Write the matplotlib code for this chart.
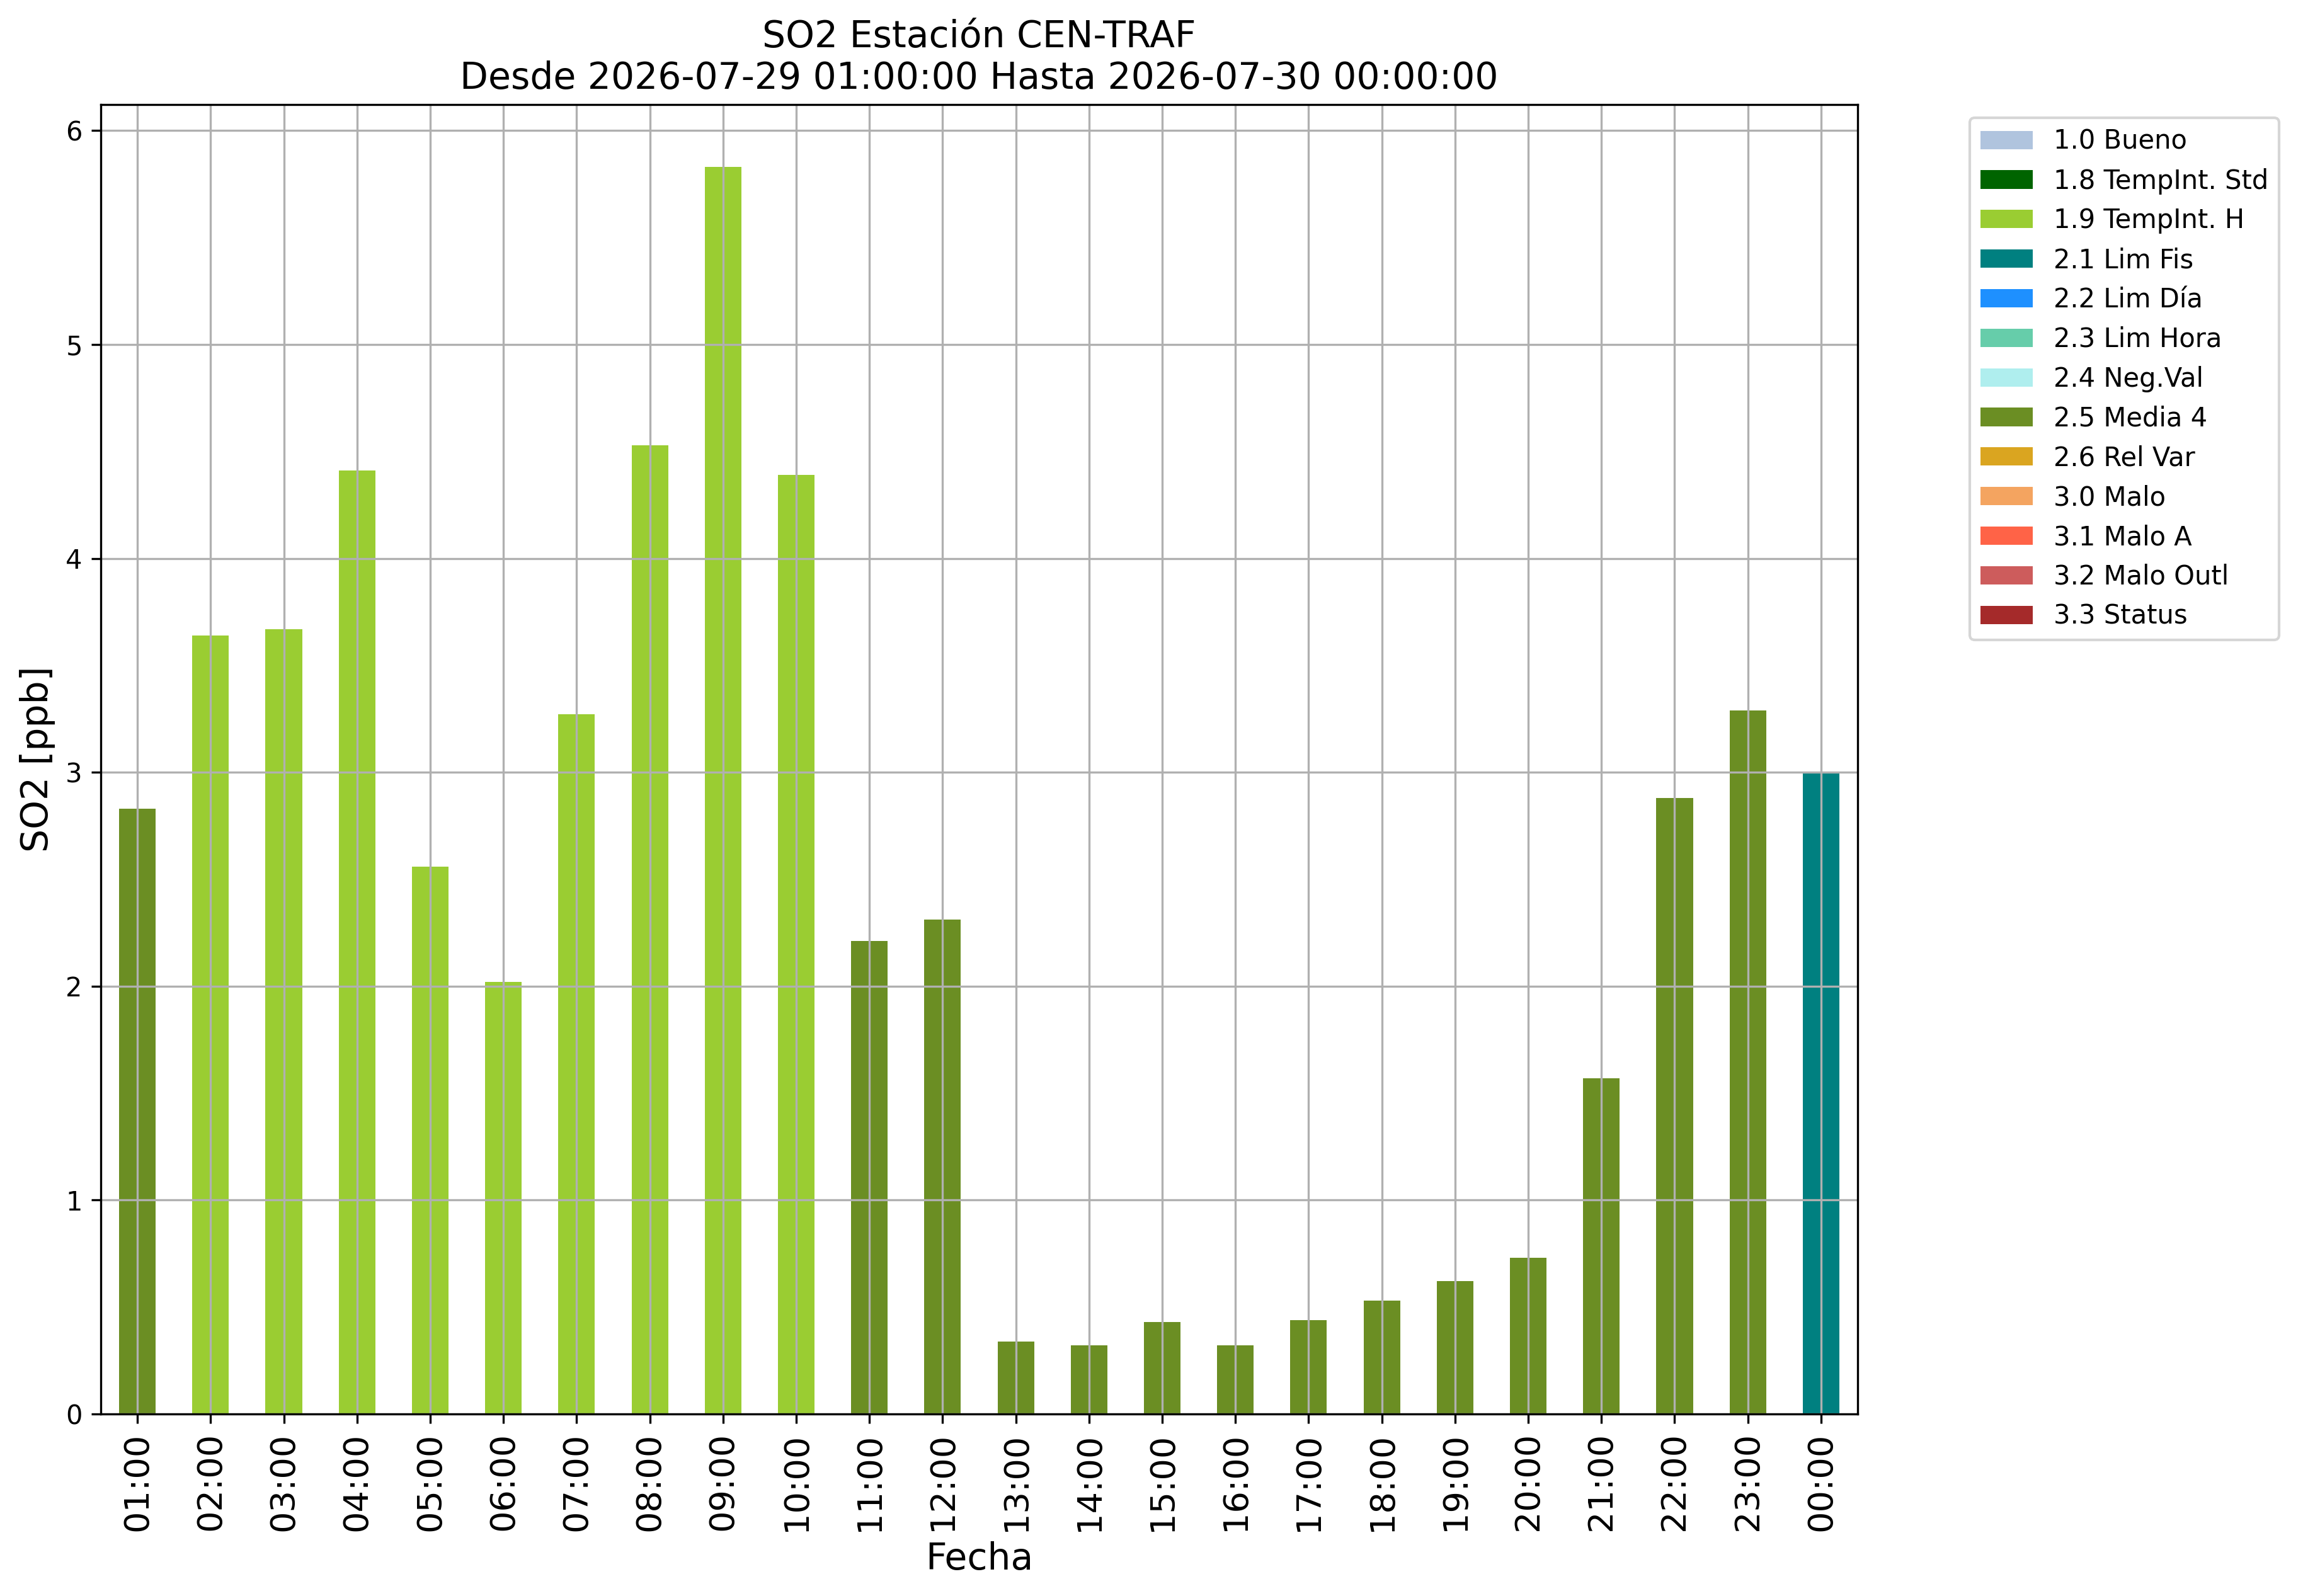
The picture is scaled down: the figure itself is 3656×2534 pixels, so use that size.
import matplotlib
matplotlib.use("Agg")
import matplotlib.pyplot as plt
from matplotlib.patches import Patch

# ---- data ----
hours = ["01:00", "02:00", "03:00", "04:00", "05:00", "06:00", "07:00", "08:00",
         "09:00", "10:00", "11:00", "12:00", "13:00", "14:00", "15:00", "16:00",
         "17:00", "18:00", "19:00", "20:00", "21:00", "22:00", "23:00", "00:00"]
so2_values = [2.83, 3.64, 3.67, 4.41, 2.56, 2.02, 3.27, 4.53,
              5.83, 4.39, 2.21, 2.31, 0.34, 0.32, 0.43, 0.32,
              0.44, 0.53, 0.62, 0.73, 1.57, 2.88, 3.29, 3.00]
flags = ["2.5", "1.9", "1.9", "1.9", "1.9", "1.9", "1.9", "1.9",
         "1.9", "1.9", "2.5", "2.5", "2.5", "2.5", "2.5", "2.5",
         "2.5", "2.5", "2.5", "2.5", "2.5", "2.5", "2.5", "2.1"]

flag_codes = ["1.0", "1.8", "1.9", "2.1", "2.2", "2.3", "2.4", "2.5", "2.6",
              "3.0", "3.1", "3.2", "3.3"]
flag_names = ["1.0 Bueno", "1.8 TempInt. Std", "1.9 TempInt. H", "2.1 Lim Fis",
              "2.2 Lim Día", "2.3 Lim Hora", "2.4 Neg.Val", "2.5 Media 4",
              "2.6 Rel Var", "3.0 Malo", "3.1 Malo A", "3.2 Malo Outl", "3.3 Status"]
flag_colors = ["lightsteelblue", "darkgreen", "yellowgreen", "teal", "dodgerblue",
               "mediumaquamarine", "paleturquoise", "olivedrab", "goldenrod",
               "sandybrown", "tomato", "indianred", "brown"]

title = "SO2 Estación CEN-TRAF\nDesde 2026-07-29 01:00:00 Hasta 2026-07-30 00:00:00"

# ---- figure ----
W, H, DPI = 3656, 2534, 300
fig = plt.figure(figsize=(W / DPI, H / DPI), dpi=DPI)
L, R, T, B = 160, 2949, 166, 2245
ax = fig.add_axes([L / W, 1 - B / H, (R - L) / W, (B - T) / H])

cmap = dict(zip(flag_codes, flag_colors))
x = list(range(len(hours)))
ax.bar(x, so2_values, width=0.5, color=[cmap[f] for f in flags])
ax.set_xlim(-0.5, len(hours) - 0.5)
ax.set_xticks(x)
ax.set_xticklabels(hours, rotation=90, fontsize=13)
ax.tick_params(axis="y", labelsize=10)
ax.grid(True)

ax.set_title(title, fontsize=14)
ax.set_ylabel("SO2 [ppb]", fontsize=14)
ax.set_xlabel("Fecha", fontsize=14)

handles = [Patch(facecolor=c, label=n) for c, n in zip(flag_colors, flag_names)]
fig.legend(handles=handles, loc="upper left", borderaxespad=0,
           bbox_to_anchor=(3127 / W, 1 - 187 / H), fontsize=10)

fig.savefig("out.png", dpi=DPI)
